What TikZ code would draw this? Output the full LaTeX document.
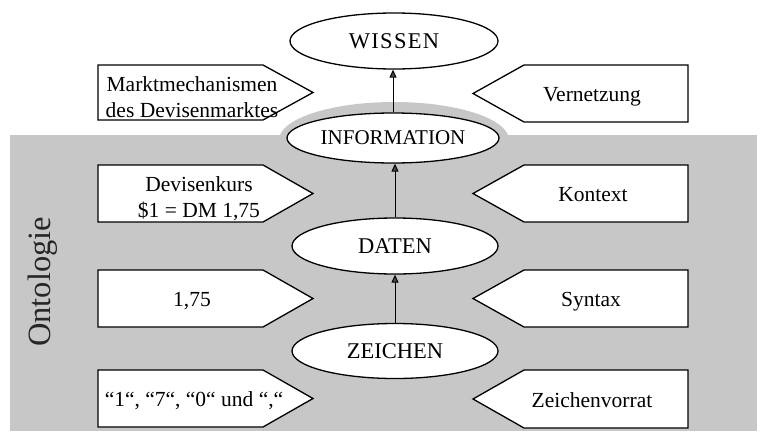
\documentclass[tikz,border=0pt]{standalone}
\usepackage{fontspec}
\setmainfont{Liberation Serif}
\usetikzlibrary{arrows.meta,calc,shapes.geometric}
\begin{document}
\begin{tikzpicture}[x=1pt,y=-1pt,
  ell/.style={ellipse, draw, fill=white, line width=1.3pt, inner sep=0pt,
              font=\fontsize{22.5}{24}\selectfont},
  boxline/.style={draw, fill=white, line width=1.3pt, line join=miter},
  lbl/.style={font=\fontsize{21.5}{26}\selectfont, align=center, inner sep=0pt},
  arr/.style={line width=1pt, -{Triangle[width=7pt,length=8pt,fill=black!70]}},
  shade/.style={fill=black!22}
]
\useasboundingbox (0,0) rectangle (762,431);
% ontology background
\fill[shade] (10,135) rectangle (757,431);
\fill[shade] (394,140) ellipse [x radius=115, y radius=38];

% ellipses
\node[ell, minimum width=208pt, minimum height=56pt, font=\fontsize{22.5}{24}\selectfont\addfontfeature{LetterSpace=6}] (wissen) at (394,41) {WISSEN};
\node[ell, minimum width=212pt, minimum height=50pt, font=\fontsize{21}{24}\selectfont] (information) at (393,138) {INFORMATION};
\node[ell, minimum width=206pt, minimum height=56pt] (daten) at (395,246) {DATEN};
\node[ell, minimum width=206pt, minimum height=55pt] (zeichen) at (395,351) {ZEICHEN};

% arrows
\draw[arr] (information.north) -- (information.north |- wissen.south);
\draw[arr] (daten.north) -- (daten.north |- information.south);
\draw[arr] (zeichen.north) -- (zeichen.north |- daten.south);

% left boxes
\draw[boxline] (98,65) -- (263,65) -- (313,92.5) -- (263,120) -- (98,120) -- cycle;
\node[lbl] (markt) at (192,97.6) {Marktmechanismen\\des Devisenmarktes};
\draw[boxline] (98,165) -- (263,165) -- (313,193.5) -- (263,222) -- (98,222) -- cycle;
\node[lbl] (kurs) at (199,199) {Devisenkurs\\\$1 = DM 1,75};
\draw[boxline] (98,270) -- (263,270) -- (313,298.5) -- (263,327) -- (98,327) -- cycle;
\node[lbl, anchor=base] (wert) at (192,306.5) {1,75};
\draw[boxline] (98,370) -- (263,370) -- (313,398.5) -- (263,427) -- (98,427) -- cycle;
\node[lbl, anchor=base] (zeichenbsp) at (194,406.5) {“1“, “7“, “0“ und “,“};

% right boxes
\draw[boxline] (473,93.5) -- (524,65) -- (688,65) -- (688,122) -- (524,122) -- cycle;
\node[lbl, anchor=base] (vernetzung) at (592,101.5) {Vernetzung};
\draw[boxline] (473,193.5) -- (524,165) -- (688,165) -- (688,222) -- (524,222) -- cycle;
\node[lbl, anchor=base] (kontext) at (593,201.5) {Kontext};
\draw[boxline] (473,298.5) -- (524,270) -- (688,270) -- (688,327) -- (524,327) -- cycle;
\node[lbl, anchor=base] (syntax) at (591,306.5) {Syntax};
\draw[boxline] (473,399) -- (524,370) -- (688,370) -- (688,428) -- (524,428) -- cycle;
\node[lbl, anchor=base] (vorrat) at (592,407) {Zeichenvorrat};

% Ontologie label
\node[font=\fontsize{32.5}{36}\selectfont, text=black!85, rotate=90, inner sep=0pt] (onto) at (43,282) {Ontologie};
\end{tikzpicture}
\end{document}
